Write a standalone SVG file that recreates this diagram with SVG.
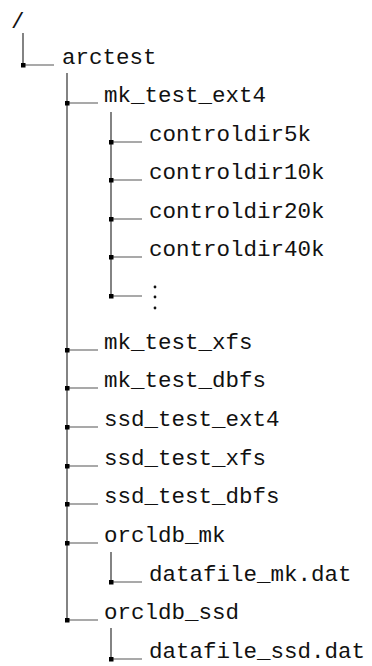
<svg xmlns="http://www.w3.org/2000/svg" width="372" height="666" viewBox="0 0 372 666">
<style>
text{font-family:"Liberation Mono","DejaVu Sans Mono",monospace;font-size:22.5px;fill:#111}
.v{stroke:#333;stroke-width:1.2;fill:none}
.h{stroke:#555;stroke-width:1.2;fill:none}
.sq{fill:#000}
</style>
<defs>
<rect id="sq" x="-2" y="-2" width="4.5" height="4.5" class="sq"/>
</defs>
<rect width="372" height="666" fill="#fff"/>
<g id="connectors">
<path class="v" d="M23,33V65 M67,73V620 M111,112V296 M111,552V582 M111,628V659"/>
<path class="h" d="M23,65H54 M67,103H98 M111,142H142 M111,180H142 M111,219H142 M111,257H142 M111,296H142 M67,350H98 M67,388H98 M67,427H98 M67,466H98 M67,504H98 M67,543H98 M111,582H142 M67,620H98 M111,659H142"/>
<use href="#sq" x="23" y="65"/>
<use href="#sq" x="67" y="103"/>
<use href="#sq" x="111" y="142"/>
<use href="#sq" x="111" y="180"/>
<use href="#sq" x="111" y="219"/>
<use href="#sq" x="111" y="257"/>
<use href="#sq" x="111" y="296"/>
<use href="#sq" x="67" y="350"/>
<use href="#sq" x="67" y="388"/>
<use href="#sq" x="67" y="427"/>
<use href="#sq" x="67" y="466"/>
<use href="#sq" x="67" y="504"/>
<use href="#sq" x="67" y="543"/>
<use href="#sq" x="111" y="582"/>
<use href="#sq" x="67" y="620"/>
<use href="#sq" x="111" y="659"/>
</g>
<g id="root"><text x="11" y="28">/</text></g>
<g id="arctest"><text x="62" y="64">arctest</text></g>
<g id="mk_test_ext4"><text x="104" y="102">mk_test_ext4</text></g>
<g id="controldir5k"><text x="149" y="141">controldir5k</text></g>
<g id="controldir10k"><text x="149" y="179">controldir10k</text></g>
<g id="controldir20k"><text x="149" y="218">controldir20k</text></g>
<g id="controldir40k"><text x="149" y="256">controldir40k</text></g>
<g id="ellipsis"><circle cx="155" cy="287" r="1.4" fill="#111"/><circle cx="155" cy="297" r="1.4" fill="#111"/><circle cx="155" cy="308" r="1.4" fill="#111"/></g>
<g id="mk_test_xfs"><text x="104" y="349">mk_test_xfs</text></g>
<g id="mk_test_dbfs"><text x="104" y="387">mk_test_dbfs</text></g>
<g id="ssd_test_ext4"><text x="104" y="426">ssd_test_ext4</text></g>
<g id="ssd_test_xfs"><text x="104" y="465">ssd_test_xfs</text></g>
<g id="ssd_test_dbfs"><text x="104" y="503">ssd_test_dbfs</text></g>
<g id="orcldb_mk"><text x="104" y="542">orcldb_mk</text></g>
<g id="datafile_mk"><text x="149" y="581">datafile_mk.dat</text></g>
<g id="orcldb_ssd"><text x="104" y="619">orcldb_ssd</text></g>
<g id="datafile_ssd"><text x="149" y="658">datafile_ssd.dat</text></g>
</svg>
